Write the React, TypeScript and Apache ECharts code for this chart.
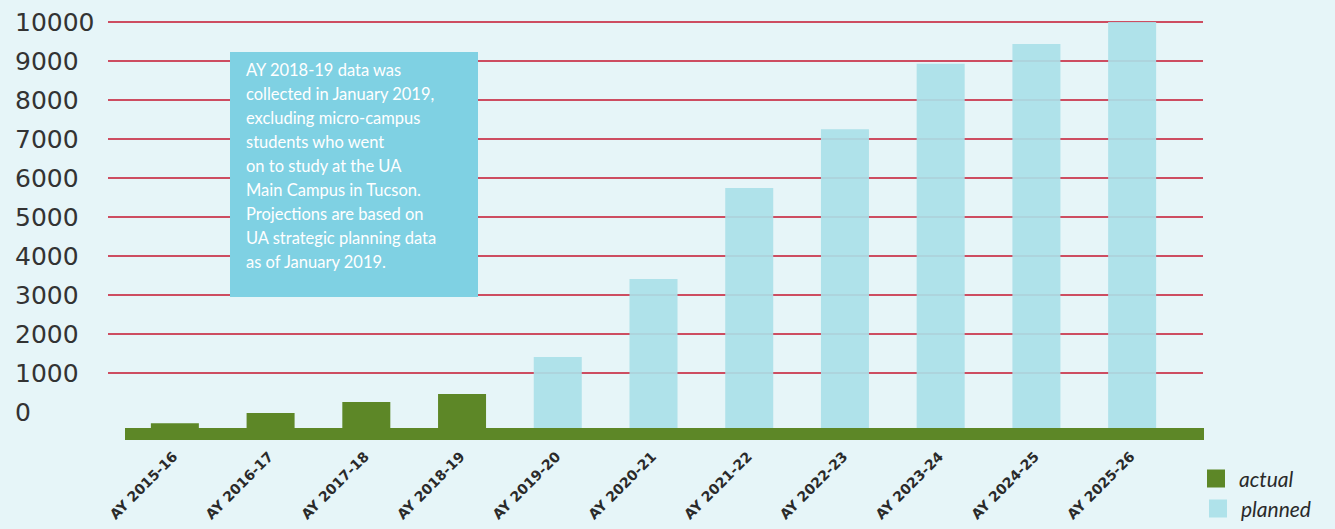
import React, { useEffect, useRef } from "react";
import * as echarts from "echarts";

const categories = [
  "AY 2015-16", "AY 2016-17", "AY 2017-18", "AY 2018-19", "AY 2019-20", "AY 2020-21",
  "AY 2021-22", "AY 2022-23", "AY 2023-24", "AY 2024-25", "AY 2025-26",
];
const actualValues = [120, 370, 640, 840, null, null, null, null, null, null, null];
const plannedValues = [null, null, null, null, 1750, 3670, 5910, 7360, 8970, 9460, 10000];
const seriesNames = ["actual", "planned"];
const axisMin = 0;
const axisMax = 10000;
const axisStep = 1000;
const noteLines = [
  "AY 2018-19 data was",
  "collected in January 2019,",
  "excluding micro-campus",
  "students who went",
  "on to study at the UA",
  "Main Campus in Tucson.",
  "Projections are based on",
  "UA strategic planning data",
  "as of January 2019.",
];

const GREEN = "#5d8727";
const LIGHT = "#aadfe8";
const BG = "#e6f5f8";

const legendText = {
  fontFamily: "Lato",
  fontStyle: "italic",
  fontSize: 21,
  color: "#2a2a2a",
  padding: [0, 0, 0, 9],
};

export default function App() {
  const ref = useRef<HTMLDivElement>(null);
  useEffect(() => {
    if (!ref.current) return;
    const chart = echarts.init(ref.current, null, { renderer: "svg" });
    chart.setOption({
      animation: false,
      backgroundColor: BG,
      grid: [
        { left: 127, width: 1053, top: 22, bottom: 101, outerBoundsMode: "none", containLabel: false },
        { left: 108, right: 132, top: 22, bottom: 117, outerBoundsMode: "none", containLabel: false },
      ],
      xAxis: [
        {
          type: "category",
          gridIndex: 0,
          data: categories,
          axisLine: { show: false },
          axisTick: { show: false },
          axisLabel: {
            interval: 0,
            rotate: 45,
            margin: 26,
            color: "#2a2a2a",
            fontFamily: "DejaVu Sans",
            fontWeight: "bold",
            fontSize: 14,
          },
        },
        { type: "value", gridIndex: 1, min: 0, max: 1, show: false },
      ],
      yAxis: [
        { type: "value", gridIndex: 0, min: axisMin, max: axisMax, show: false },
        {
          type: "value",
          gridIndex: 1,
          min: axisMin,
          max: axisMax,
          interval: axisStep,
          axisLine: { show: false },
          axisTick: { show: false },
          axisLabel: {
            align: "left",
            margin: 93,
            color: "#333",
            fontFamily: "DejaVu Sans",
            fontSize: 25,
            formatter: (v: number) => String(v),
          },
          splitLine: {
            show: true,
            showMinLine: false,
            lineStyle: { color: "#c4142f", width: 1.5 },
          },
        },
      ],
      legend: [
        {
          orient: "vertical",
          left: 1207,
          top: 468,
          padding: 0,
          itemWidth: 18,
          itemHeight: 18,
          icon: "rect",
          data: [seriesNames[0]],
          textStyle: legendText,
        },
        {
          orient: "vertical",
          left: 1209,
          top: 498,
          padding: 0,
          itemWidth: 18,
          itemHeight: 18,
          icon: "rect",
          data: [seriesNames[1]],
          textStyle: legendText,
        },
      ],
      series: [
        {
          name: seriesNames[0],
          type: "bar",
          xAxisIndex: 0,
          yAxisIndex: 0,
          data: actualValues,
          barWidth: 48,
          barGap: "-100%",
          itemStyle: { color: GREEN },
          z: 3,
        },
        {
          name: seriesNames[1],
          type: "bar",
          xAxisIndex: 0,
          yAxisIndex: 0,
          data: plannedValues,
          barWidth: 48,
          itemStyle: { color: LIGHT, opacity: 0.92 },
          z: 3,
        },
      ],
      graphic: [
        {
          type: "rect",
          z: 50,
          shape: { x: 125, y: 428, width: 1079, height: 12 },
          style: { fill: GREEN },
        },
        {
          type: "rect",
          z: 100,
          shape: { x: 230, y: 52, width: 248, height: 245 },
          style: { fill: "#7fd1e3" },
        },
        {
          type: "text",
          z: 101,
          x: 246,
          y: 58,
          style: {
            text: noteLines.join("\n"),
            fill: "#ffffff",
            fontFamily: "Lato",
            fontSize: 16.5,
            lineHeight: 24,
            verticalAlign: "top",
          },
        },
      ],
    });
    return () => chart.dispose();
  }, []);
  return (
    <div
      ref={ref}
      style={{ position: "absolute", left: 0, top: 0, width: 1335, height: 529 }}
    />
  );
}
